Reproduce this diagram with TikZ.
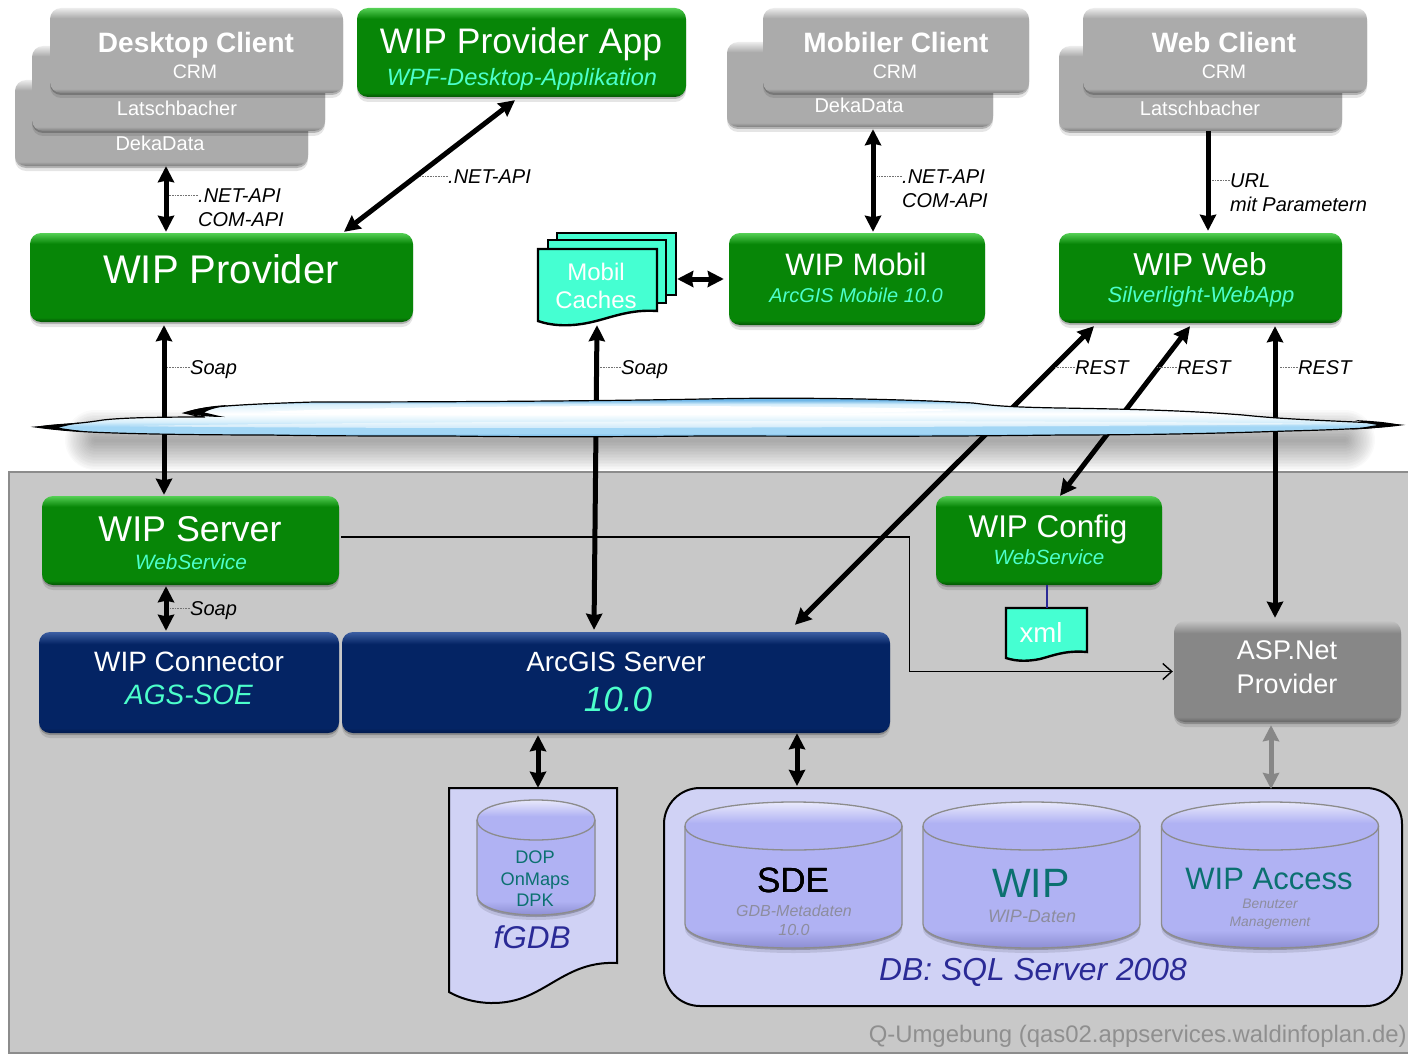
\documentclass[tikz,border=0pt]{standalone}
\usepackage{fontspec}
\setmainfont{Liberation Sans}
\usetikzlibrary{arrows.meta, shadows}
\definecolor{wipGreen}{HTML}{078607}
\definecolor{wipGreenTop}{HTML}{55D055}
\definecolor{wipGreenLow}{HTML}{045204}
\definecolor{wipNavy}{HTML}{042464}
\definecolor{wipNavyTop}{HTML}{3D5FA3}
\definecolor{wipNavyLow}{HTML}{021A4C}
\definecolor{clientGrey}{HTML}{ABABAB}
\definecolor{clientGreyTop}{HTML}{ECECEC}
\definecolor{clientGreyLow}{HTML}{7E7E7E}
\definecolor{aspGrey}{HTML}{878787}
\definecolor{aspGreyTop}{HTML}{C4C4C4}
\definecolor{aspGreyLow}{HTML}{666666}
\definecolor{panelGrey}{HTML}{C8C8C8}
\definecolor{aqua}{HTML}{4CFFCB}
\definecolor{docAqua}{HTML}{45FFD2}
\definecolor{dbLilac}{HTML}{D0D2F5}
\definecolor{cylBlue}{HTML}{B0B2F3}
\definecolor{cylLow}{HTML}{7D7EC4}
\definecolor{inkBlue}{HTML}{2A2A96}
\definecolor{inkTeal}{HTML}{0B7070}
\definecolor{inkGrey}{HTML}{8D8D9E}
\definecolor{skyA}{HTML}{6FB6E6}
\definecolor{skyB}{HTML}{A2D6F5}
\definecolor{skyC}{HTML}{D8EFFB}
\pgfdeclareverticalshading{greenbox}{100bp}{color(0bp)=(wipGreenLow); color(25bp)=(wipGreenLow); color(27.5bp)=(wipGreen); color(69bp)=(wipGreen); color(75bp)=(wipGreenTop); color(100bp)=(wipGreenTop)}
\pgfdeclareverticalshading{navybox}{100bp}{color(0bp)=(wipNavyLow); color(25bp)=(wipNavyLow); color(27.5bp)=(wipNavy); color(69bp)=(wipNavy); color(75bp)=(wipNavyTop); color(100bp)=(wipNavyTop)}
\pgfdeclareverticalshading{greybox}{100bp}{color(0bp)=(clientGreyLow); color(25bp)=(clientGreyLow); color(27.5bp)=(clientGrey); color(69bp)=(clientGrey); color(75bp)=(clientGreyTop); color(100bp)=(clientGreyTop)}
\pgfdeclareverticalshading{aspbox}{100bp}{color(0bp)=(aspGreyLow); color(25bp)=(aspGreyLow); color(27.5bp)=(aspGrey); color(69bp)=(aspGrey); color(75bp)=(aspGreyTop); color(100bp)=(aspGreyTop)}
\pgfdeclareverticalshading{drumshade}{100bp}{color(0bp)=(cylLow); color(25bp)=(cylLow); color(33bp)=(cylBlue); color(66bp)=(cylBlue); color(75bp)=(white); color(100bp)=(white)}
\pgfdeclareverticalshading{skyshade}{100bp}{color(0bp)=(skyA); color(25bp)=(skyA); color(30bp)=(skyB); color(38bp)=(skyB); color(44bp)=(skyC); color(54bp)=(white); color(66bp)=(skyC); color(71bp)=(skyA); color(100bp)=(skyA)}
\tikzset{
  >={Stealth[length=16pt, width=16pt, inset=1.5pt]}, % heavy heads on the thick connectors
  softshadow/.style={drop shadow={shadow xshift=0pt, shadow yshift=-2pt, fill=black, opacity=.22}, drop shadow={shadow xshift=0pt, shadow yshift=-5pt, fill=black, opacity=.1}},
  box/.style={rectangle, rounded corners=11pt, inner sep=0pt, softshadow},
  greenNode/.style={box, shading=greenbox},
  navyNode/.style={box, shading=navybox},
  greyNode/.style={box, shading=greybox},
  aspNode/.style={box, shading=aspbox},
  ghost/.style={rectangle, inner sep=0pt},
  textfit/.style={inner sep=0pt, text height=#1*.72pt, text depth=0pt}, % centre on the capitals
  headtxt/.style={textfit=#1, text=white, font=\fontsize{#1}{#1}\selectfont},
  boldtxt/.style={textfit=#1, text=white, font=\bfseries\fontsize{#1}{#1}\selectfont},
  subtxt/.style={textfit=#1, text=aqua, font=\itshape\fontsize{#1}{#1}\selectfont},
  inktxt/.style={textfit=#1, font=\fontsize{#1}{#1}\selectfont},
  inkitxt/.style={textfit=#1, font=\itshape\fontsize{#1}{#1}\selectfont},
  apitxt/.style={inner sep=0pt, text height=14.3pt, text depth=0pt, align=left, anchor=west, font=\itshape\fontsize{20}{24}\selectfont},
  leader/.style={densely dotted, line width=.6pt, draw=black!55},
  biarrow/.style={<->, line width=5pt},
  oneway/.style={->, line width=5pt},
  thinline/.style={line width=1.4pt, -{Straight Barb[length=9pt, width=16pt]}},
  doc/.style={draw=black, line width=2.4pt, fill=docAqua, line join=miter},
  drumline/.style={draw=black!45, line width=1.3pt},
}
% centre x, top y, half width, cap radius, bottom y
\newcommand{\drum}[5]{
  \path[shading=drumshade, drumline, softshadow] (#1-#3,#2+#4) .. controls (#1-#3,#2-#4/3) and (#1+#3,#2-#4/3) .. (#1+#3,#2+#4)
    -- (#1+#3,#5-#4) .. controls (#1+#3,#5+#4/3) and (#1-#3,#5+#4/3) .. (#1-#3,#5-#4) -- cycle;
  \draw[drumline] (#1-#3,#2+#4) .. controls (#1-#3,#2+#4*7/3) and (#1+#3,#2+#4*7/3) .. (#1+#3,#2+#4);
}

\begin{document}
\begin{tikzpicture}[x=1pt, y=-1pt]
  \useasboundingbox (0,0) rectangle (1408,1054);

  % soft shade under the cloud, then the panel
  \foreach \w in {3,6,...,60}
    \draw[line width=\w pt, line cap=round, black, opacity=.018] (95,440) -- (1345,440);
  \draw[draw=black!45, line width=1.5pt, fill=panelGrey] (9,472) rectangle (1412,1053);
  \node[inktxt=23.9, text=black!44, anchor=east] (stageNote) at (1407,1034) {Q-Umgebung (qas02.appservices.waldinfoplan.de)};

  % clients
  \node[greyNode, minimum width=293pt, minimum height=86pt] (deka1) at (161.5,123) {};
  \node[greyNode, minimum width=293pt, minimum height=85pt] (latsch1) at (178.5,88.5) {};
  \node[greyNode, minimum width=293pt, minimum height=85pt] (desktop) at (196.5,50.5) {};
  \node[headtxt=20] (deka1T) at (160,143) {DekaData};
  \node[headtxt=20] (latsch1T) at (177,108) {Latschbacher};
  \node[boldtxt=28] (desktopT) at (196,42) {Desktop Client};
  \node[headtxt=19.5] (desktopS) at (195,71) {CRM};

  \node[greenNode, minimum width=329pt, minimum height=89pt] (app) at (521.5,52.5) {};
  \node[headtxt=35.5] (appT) at (521,41) {WIP Provider App};
  \node[subtxt=23.6] (appS) at (522,77) {WPF-Desktop-Applikation};

  \node[greyNode, minimum width=266pt, minimum height=85pt] (deka2) at (860,84.5) {};
  \node[greyNode, minimum width=266pt, minimum height=85pt] (mobiler) at (896,50.5) {};
  \node[headtxt=20] (deka2T) at (859,105) {DekaData};
  \node[boldtxt=28] (mobilerT) at (896,42) {Mobiler Client};
  \node[headtxt=19.5] (mobilerS) at (895,71) {CRM};

  \node[greyNode, minimum width=283pt, minimum height=85pt] (latsch2) at (1200.5,88.5) {};
  \node[greyNode, minimum width=284pt, minimum height=85pt] (webclient) at (1225,50.5) {};
  \node[headtxt=20] (latsch2T) at (1200,108) {Latschbacher};
  \node[boldtxt=28] (webclientT) at (1224,42) {Web Client};
  \node[headtxt=19.5] (webclientS) at (1224,71) {CRM};

  % middle row
  \node[greenNode, minimum width=383pt, minimum height=89pt] (provider) at (221.5,277.5) {};
  \node[headtxt=40] (providerT) at (221,269) {WIP Provider};
  \node[greenNode, minimum width=256pt, minimum height=92pt] (mobil) at (857,279) {};
  \node[headtxt=31] (mobilT) at (856,264) {WIP Mobil};
  \node[subtxt=20] (mobilS) at (856,295) {ArcGIS Mobile 10.0};
  \node[greenNode, minimum width=283pt, minimum height=90pt] (web) at (1200.5,278) {};
  \node[headtxt=31.7] (webT) at (1200,264) {WIP Web};
  \node[subtxt=22] (webS) at (1201,295) {Silverlight-WebApp};

  \draw[doc] (557,233) -- (676,233) -- (676,295) -- (557,295) -- cycle;
  \draw[doc] (548,240) -- (666,240) -- (666,303) -- (548,303) -- cycle;
  \draw[doc] (538,249) -- (657,249) -- (657,311) .. controls (630,309) and (610,318) .. (592,322) .. controls (575,326) and (555,327) .. (538,321) -- cycle;
  \node[ghost, minimum width=139pt, minimum height=92pt] (caches) at (607.5,279) {};
  \node[headtxt=24] (cachesA) at (596,272) {Mobil};
  \node[headtxt=24] (cachesB) at (596,300) {Caches};

  % server side
  \node[greenNode, minimum width=297pt, minimum height=89pt] (server) at (190.5,540.5) {};
  \node[headtxt=35.8] (serverT) at (190,529) {WIP Server};
  \node[subtxt=20.8] (serverS) at (191,562) {WebService};
  \node[greenNode, minimum width=226pt, minimum height=89pt] (config) at (1049,540.5) {};
  \node[headtxt=31.4] (configT) at (1048,526) {WIP Config};
  \node[subtxt=20.6] (configS) at (1049,557) {WebService};
  \node[navyNode, minimum width=300pt, minimum height=101pt] (connector) at (189,682.5) {};
  \node[headtxt=28] (connectorT) at (189,661) {WIP Connector};
  \node[subtxt=28] (connectorS) at (189,694) {AGS-SOE};
  \node[navyNode, minimum width=548pt, minimum height=101pt] (arcgis) at (616,682.5) {};
  \node[headtxt=27.8] (arcgisT) at (616,661) {ArcGIS Server};
  \node[subtxt=35] (arcgisS) at (618,699) {10.0};
  \node[aspNode, minimum width=227pt, minimum height=101pt] (asp) at (1287.5,671.5) {};
  \node[headtxt=27] (aspA) at (1287,650) {ASP.Net};
  \node[headtxt=27] (aspB) at (1287,684) {Provider};

  \draw[doc] (1006,608) -- (1087,608) -- (1087,652) .. controls (1065,650) and (1052,656) .. (1040,659) .. controls (1030,661) and (1018,662) .. (1006,658) -- cycle;
  \node[ghost, minimum width=81pt, minimum height=52pt] (xmlDoc) at (1046.5,634) {};
  \node[headtxt=27.6] (xmlT) at (1041,633) {xml};

  % stores
  \draw[draw=black, line width=2pt, fill=dbLilac] (449,788) -- (617,788) -- (617,963) .. controls (575,961) and (555,985) .. (525,997) .. controls (500,1007) and (470,1004) .. (449,992) -- cycle;
  \node[ghost, minimum width=168pt, minimum height=215pt] (fgdb) at (533,895.5) {};
  \drum{536}{800}{59}{20}{915}
  \node[inktxt=18.2, text=inkTeal] (fcylA) at (535,857) {DOP};
  \node[inktxt=18.2, text=inkTeal] (fcylB) at (535,879) {OnMaps};
  \node[inktxt=18.2, text=inkTeal] (fcylC) at (535,900) {DPK};
  \node[inkitxt=31.5, text=inkBlue] (fgdbT) at (532,937) {fGDB};

  \node[draw=black, line width=2pt, fill=dbLilac, rounded corners=36pt, inner sep=0pt, minimum width=738pt, minimum height=218pt] (db) at (1033,897) {};
  \foreach \cx in {793.5,1031.5,1270}
    \drum{\cx}{802}{108.5}{24}{948}
  \node[inktxt=35] (sdeT) at (793,880) {SDE};
  \node[inkitxt=16, text=inkGrey] (sdeA) at (794,911) {GDB-Metadaten};
  \node[inkitxt=16, text=inkGrey] (sdeB) at (794,930) {10.0};
  \node[inktxt=41, text=inkTeal] (wipT) at (1031,883) {WIP};
  \node[inkitxt=18, text=inkGrey] (wipA) at (1032,916) {WIP-Daten};
  \node[inktxt=31, text=inkTeal] (accessT) at (1269,878) {WIP Access};
  \node[inkitxt=13.8, text=inkGrey] (accessA) at (1270,904) {Benutzer};
  \node[inkitxt=13.8, text=inkGrey] (accessB) at (1270,922) {Management};
  \node[inkitxt=31.8, text=inkBlue] (dbT) at (1033,969) {DB: SQL Server 2008};

  % connectors
  \draw[biarrow] ([xshift=4.5pt]deka1.south) -- ([xshift=-55.5pt, yshift=1pt]provider.north);
  \draw[biarrow] ([xshift=-6.5pt, yshift=-3pt]app.south) -- ([xshift=122.5pt, yshift=1pt]provider.north);
  \draw[biarrow] ([xshift=13pt, yshift=-2pt]deka2.south) -- ([xshift=16pt, yshift=1pt]mobil.north);
  \draw[oneway] ([xshift=7.5pt]latsch2.south) -- ([xshift=7.5pt, yshift=2pt]web.north);
  \draw[biarrow] ([xshift=-57.5pt, yshift=-3pt]provider.south) -- ([xshift=-26.5pt, yshift=1pt]server.north);
  \draw[biarrow] ([xshift=-10.5pt]caches.south) -- ([xshift=-22pt, yshift=2pt]arcgis.north);
  \draw[biarrow] (caches.east) -- ([xshift=-5pt]mobil.west);
  \draw[biarrow] ([xshift=-106.5pt, yshift=-3pt]web.south) -- ([xshift=179pt, yshift=7pt]arcgis.north);
  \draw[biarrow] ([xshift=-10.5pt, yshift=-3pt]web.south) -- ([xshift=11pt]config.north);
  \draw[biarrow] ([xshift=74.5pt, yshift=-3pt]web.south) -- ([xshift=-12.5pt, yshift=3pt]asp.north);
  \draw[biarrow] ([xshift=-24.5pt, yshift=-1pt]server.south) -- ([xshift=-23pt, yshift=1pt]connector.north);
  \draw[biarrow] ([xshift=-78pt, yshift=-2pt]arcgis.south) -- ([xshift=5pt]fgdb.north);
  \draw[biarrow] ([xshift=181pt]arcgis.south) -- ([xshift=-236pt, yshift=1pt]db.north);
  \draw[biarrow, draw=aspGrey, fill=aspGrey] ([xshift=-16.5pt, yshift=-3pt]asp.south) -- ([xshift=238pt, yshift=-2pt]db.north);
  \draw[thinline] ([yshift=3.5pt, xshift=2pt]server.east) -- ++(568,0) |- ([xshift=-1pt]asp.west);
  \draw[line width=2pt, draw=inkBlue] ([xshift=-2pt]config.south) -- ([xshift=.5pt]xmlDoc.north);

  % cloud over the lines
  \path[shading=skyshade, draw=black, line width=1.2pt]
    (36,427) .. controls (60,425) and (85,423) .. (103,420) .. controls (120,418) and (150,417) .. (205,417)
    .. controls (195,416) and (190,414) .. (184,413) .. controls (200,408) and (215,405) .. (314,402)
    .. controls (450,402) and (600,401) .. (704,399) .. controls (800,397) and (900,399) .. (973,403)
    .. controls (990,405) and (1000,407) .. (1060,408) .. controls (1120,409) and (1180,410) .. (1243,415)
    .. controls (1300,421) and (1360,421) .. (1400,425) .. controls (1380,428) and (1330,430) .. (1288,431)
    .. controls (1200,434) and (1130,435) .. (1063,435) .. controls (900,437) and (800,436) .. (704,436)
    .. controls (600,437) and (520,437) .. (449,436) .. controls (380,436) and (320,436) .. (269,435)
    .. controls (200,435) and (130,434) .. (90,432) .. controls (70,431) and (50,429) .. (36,427) -- cycle;
  \fill[black] (36,427) .. controls (50,424) and (65,424) .. (80,422.5) .. controls (65,426) and (62,427) .. (58,427.5) .. controls (65,429) and (75,430) .. (85,431.5) .. controls (65,431) and (50,429) .. (36,427) -- cycle;
  \fill[black] (1400,425) .. controls (1385,421.5) and (1370,421) .. (1355,420) .. controls (1365,423) and (1372,424) .. (1378,425) .. controls (1370,426) and (1362,428) .. (1350,429.5) .. controls (1370,429) and (1385,427) .. (1400,425) -- cycle;
  \fill[black] (184,413) .. controls (195,408.5) and (210,406) .. (228,405) .. controls (215,408) and (208,410) .. (204,412.5) .. controls (212,414) and (218,416) .. (225,417) .. controls (205,417) and (195,415) .. (184,413) -- cycle;
  \fill[white] (260,412) .. controls (400,405) and (800,404) .. (965,410) .. controls (800,416) and (400,418) .. (260,412) -- cycle;
  \fill[white, opacity=.55] (130,426) .. controls (400,421) and (1000,419) .. (1340,424) .. controls (1000,427) and (400,430) .. (130,426) -- cycle;

  % connector captions
  \node[apitxt] (apiA) at (198,219) {.NET-API\\COM-API};
  \draw[leader] ([yshift=24pt]apiA.west) -- ++(-29,0);
  \node[apitxt] (apiB) at (448,176) {.NET-API};
  \draw[leader] (apiB.west) -- ++(-28,0);
  \node[apitxt] (apiC) at (902,200) {.NET-API\\COM-API};
  \draw[leader] ([yshift=24pt]apiC.west) -- ++(-25,0);
  \node[apitxt] (urlT) at (1230,204) {URL\\mit Parametern};
  \draw[leader] ([yshift=24pt]urlT.west) -- ++(-18,0);
  \node[apitxt] (soapA) at (190,367) {Soap};
  \draw[leader] (soapA.west) -- ++(-23,0);
  \node[apitxt] (soapB) at (621,367) {Soap};
  \draw[leader] (soapB.west) -- ++(-21,0);
  \node[apitxt] (soapC) at (190,608) {Soap};
  \draw[leader] (soapC.west) -- ++(-20,0);
  \node[apitxt] (restA) at (1075,367) {REST};
  \draw[leader] (restA.west) -- ++(-20,0);
  \node[apitxt] (restB) at (1177,367) {REST};
  \draw[leader] (restB.west) -- ++(-20,0);
  \node[apitxt] (restC) at (1298,367) {REST};
  \draw[leader] (restC.west) -- ++(-19,0);
\end{tikzpicture}
\end{document}
